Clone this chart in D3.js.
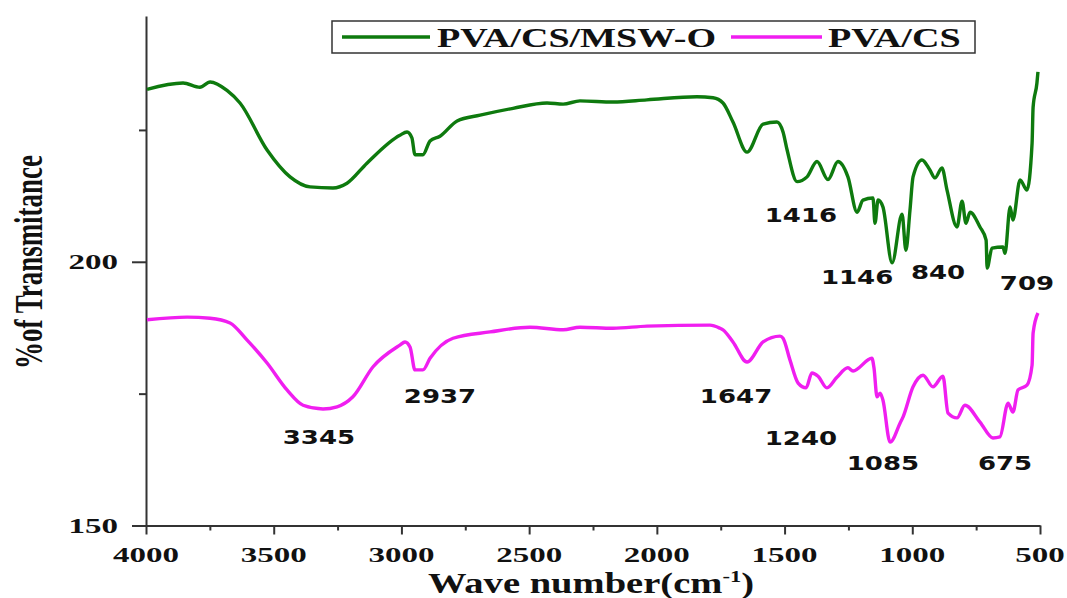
<!DOCTYPE html>
<html>
<head>
<meta charset="utf-8">
<script src="https://cdn.jsdelivr.net/npm/d3@7"></script>
<style>
  body { margin: 0; background: #fff; }
  svg { display: block; }
  .axis path, .axis line { stroke: #333; stroke-width: 2px; }
  .tick-label, .axis-title, .legend-label { font-family: "Liberation Serif", "Times New Roman", serif; font-weight: bold; fill: #111; }
  .peak { font-family: "DejaVu Sans", Verdana, sans-serif; font-weight: bold; fill: #111; }
</style>
</head>
<body>
<svg id="chart" width="1067" height="598"></svg>
<script>
// FTIR spectra: [wave number, % transmittance]
const msw = [
  [3996,232.7],[3855,233.9],[3789,233.1],[3749,234.1],[3683,232.5],[3632,230.1],
  [3526,221.2],[3436,216.1],[3358,214.2],[3268,214.0],[3213,214.9],[3135,218.7],
  [3006,224.0],[2978,224.6],[2959,223.5],[2947,220.3],[2916,220.3],[2888,222.9],
  [2849,223.8],[2782,226.7],[2692,227.8],[2563,229.1],[2430,230.1],[2367,229.9],
  [2301,230.5],[2172,230.3],[2039,230.7],[1843,231.3],[1780,231.1],[1741,230.1],
  [1702,226.5],[1647,220.8],[1584,226.1],[1530,226.5],[1506,224.6],[1490,221.2],
  [1451,215.2],[1412,216.1],[1373,219.0],[1330,215.6],[1291,219.0],[1252,216.1],
  [1216,209.4],[1193,211.7],[1154,212.1],[1146,207.3],[1134,211.7],[1115,210.4],
  [1079,199.8],[1040,209.0],[1025,202.2],[1009,209.8],[997,216.1],[962,219.3],
  [931,217.4],[911,215.9],[884,217.8],[864,213.6],[825,206.6],[805,211.5],
  [790,207.3],[774,209.4],[735,206.6],[711,204.1],[707,198.8],[688,202.6],
  [645,202.8],[637,201.6],[617,210.4],[606,207.9],[578,215.5],[551,213.6],
  [531,222.5],[527,229.3],[512,233.9],[508,236.0]
];
const pvaCs = [
  [3996,189.0],[3839,189.5],[3749,189.3],[3671,188.4],[3605,185.2],[3526,180.8],
  [3448,175.7],[3385,172.8],[3307,172.1],[3252,172.5],[3190,174.4],[3111,180.1],
  [3006,184.2],[2986,184.8],[2966,183.8],[2947,179.5],[2916,179.5],[2888,181.7],
  [2798,185.5],[2653,186.7],[2497,187.6],[2367,187.1],[2301,187.6],[2172,187.4],
  [2039,187.8],[1792,188.0],[1753,187.4],[1741,187.1],[1702,184.8],[1647,181.0],
  [1584,184.8],[1518,185.9],[1506,185.5],[1479,181.4],[1447,177.0],[1416,176.1],
  [1393,178.9],[1369,178.3],[1334,176.1],[1295,178.1],[1252,179.9],[1232,179.3],
  [1158,181.7],[1150,179.9],[1138,174.4],[1126,175.1],[1115,173.8],[1087,165.8],
  [1048,169.4],[1036,170.6],[997,176.3],[958,178.5],[919,176.3],[880,178.3],
  [860,171.3],[825,170.4],[794,172.8],[735,169.6],[684,166.6],[657,166.8],
  [625,173.2],[606,171.5],[586,175.7],[551,176.6],[531,180.4],[527,186.5],[508,190.3]
];

// peak labels: [text, wave number at label centre, transmittance at label centre]
const mswPeaks = [["1416",1436,208.9],["1146",1216,197.3],["840",899,198.2],["709",551,196.0]];
const pvaPeaks = [["3345",3323,166.8],["2937",2849,174.7],["1647",1690,174.7],["1240",1436,166.6],["1085",1115,162.0],["675",637,162.0]];

const xTicks = [4000,3500,3000,2500,2000,1500,1000,500];
const xMinor = [3750,3250,2750,2250,1750,1250,750];
const yTicks = [150,200];
const yMinor = [175,225];

const seriesNames = ["PVA/CS/MSW-O","PVA/CS"];
const colors = ["#0e7a0e","#f01ef0"];

const svg = d3.select("#chart");
const x = d3.scaleLinear().domain([4000,500]).range([146,1040]);
const y = d3.scaleLinear().domain([150,246.6]).range([525.5,16]);

// x axis
svg.append("g").attr("class","axis")
  .attr("transform","translate(0,525.5)")
  .call(d3.axisBottom(x).tickValues(xTicks).tickSize(9).tickSizeOuter(0).tickFormat(""));
svg.append("g").attr("class","axis")
  .attr("transform","translate(0,525.5)")
  .call(d3.axisBottom(x).tickValues(xMinor).tickSize(5).tickSizeOuter(0).tickFormat(""))
  .select(".domain").remove();

xTicks.forEach(v => {
  svg.append("text").attr("class","tick-label")
    .attr("transform",`translate(${x(v)},562) scale(1.5,1)`)
    .attr("text-anchor","middle").attr("font-size",22).text(v);
});

// y axis
svg.append("g").attr("class","axis")
  .attr("transform","translate(146,0)")
  .call(d3.axisLeft(y).tickValues(yTicks).tickSize(14).tickSizeOuter(0).tickFormat(""));
svg.append("g").attr("class","axis")
  .attr("transform","translate(146,0)")
  .call(d3.axisLeft(y).tickValues(yMinor).tickSize(7).tickSizeOuter(0).tickFormat(""))
  .select(".domain").remove();

yTicks.forEach(v => {
  svg.append("text").attr("class","tick-label")
    .attr("transform",`translate(118,${y(v)+7.5}) scale(1.5,1)`)
    .attr("text-anchor","end").attr("font-size",22).text(v);
});

// titles
const xt = svg.append("text").attr("class","axis-title")
  .attr("transform","translate(591,593) scale(1.33,1)")
  .attr("text-anchor","middle").attr("font-size",29);
xt.append("tspan").text("Wave number(cm");
xt.append("tspan").attr("font-size",17).attr("dy",-11).text("-1");
xt.append("tspan").attr("dy",11).text(")");

svg.append("text").attr("class","axis-title")
  .attr("transform","translate(42,262) scale(1.45,1) rotate(-90)")
  .attr("text-anchor","middle").attr("font-size",27)
  .text("%of Transmitance");

// spectra
const line = d3.line().x(d => x(d[0])).y(d => y(d[1])).curve(d3.curveMonotoneX);
[msw, pvaCs].forEach((data,i) => {
  svg.append("path").datum(data)
    .attr("fill","none").attr("stroke",colors[i])
    .attr("stroke-width",3.4).attr("stroke-linejoin","round")
    .attr("d",line);
});

// peak labels
[mswPeaks, pvaPeaks].forEach(peaks => {
  peaks.forEach(p => {
    svg.append("text").attr("class","peak")
      .attr("transform",`translate(${x(p[1])},${y(p[2])+7.5}) scale(1.3,1)`)
      .attr("text-anchor","middle").attr("font-size",20).text(p[0]);
  });
});

// legend
const lg = svg.append("g");
lg.append("rect").attr("x",332).attr("y",21).attr("width",643).attr("height",32)
  .attr("fill","#fff").attr("stroke","#333").attr("stroke-width",1.5);
const legendItems = [
  {name: seriesNames[0], x0: 342, x1: 430, tx: 437},
  {name: seriesNames[1], x0: 731, x1: 822, tx: 828}
];
legendItems.forEach((d,i) => {
  lg.append("line").attr("x1",d.x0).attr("x2",d.x1).attr("y1",37).attr("y2",37)
    .attr("stroke",colors[i]).attr("stroke-width",3.5);
  lg.append("text").attr("class","legend-label")
    .attr("transform",`translate(${d.tx},47) scale(1.36,1)`)
    .attr("font-size",28).text(d.name);
});
</script>
</body>
</html>
